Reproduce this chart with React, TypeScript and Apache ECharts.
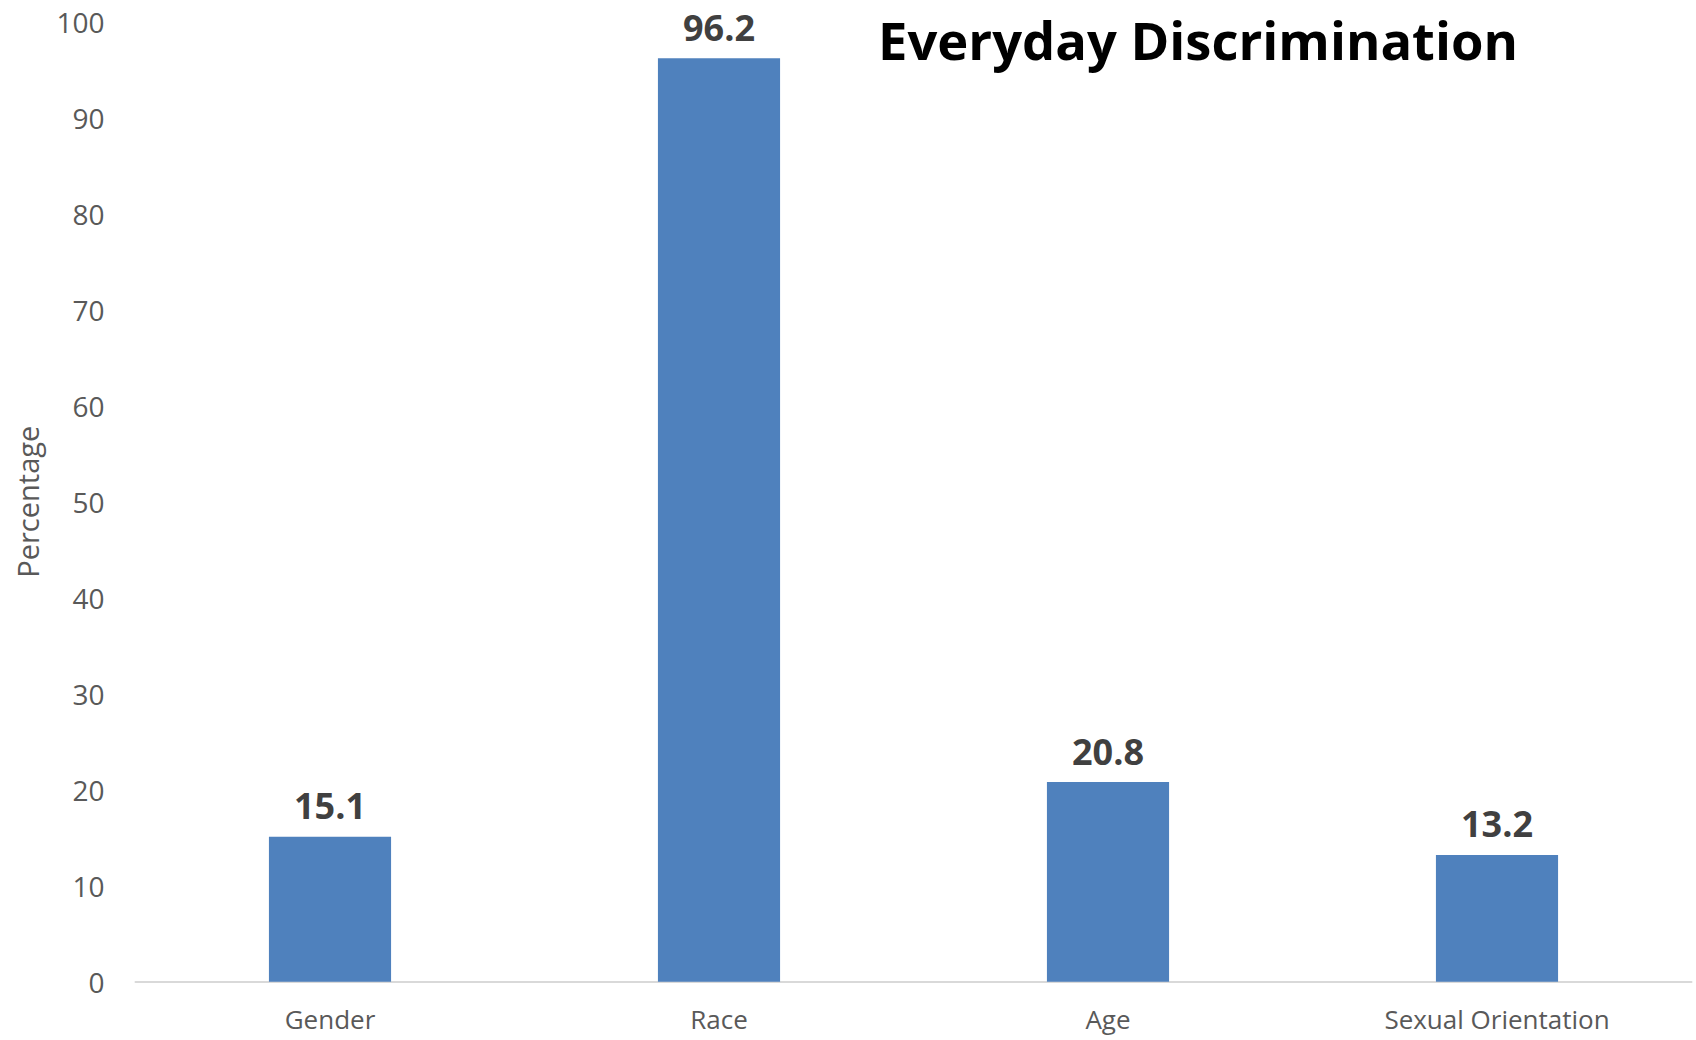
import React, { useEffect, useRef } from "react";
import * as echarts from "echarts";

const categories = ["Gender", "Race", "Age", "Sexual Orientation"];
const values = [15.1, 96.2, 20.8, 13.2];
const titleText = "Everyday Discrimination";
const yAxisName = "Percentage";

const FONT = "'Open Sans', 'Noto Sans', sans-serif";

export default function App() {
  const ref = useRef<HTMLDivElement>(null);

  useEffect(() => {
    if (!ref.current) return;
    const chart = echarts.init(ref.current, undefined, { renderer: "svg" });
    chart.setOption({
      animation: false,
      backgroundColor: "#ffffff",
      title: {
        text: titleText,
        left: 1193,
        top: 8,
        textAlign: "center",
        textStyle: {
          fontFamily: FONT,
          fontWeight: "bold",
          fontSize: 52.5,
          color: "#000000",
        },
      },
      grid: { left: 135.5, right: 4.5, top: 21.7, bottom: 58.3, containLabel: false },
      xAxis: {
        type: "category",
        data: categories,
        axisLine: { show: true, lineStyle: { color: "#D9D9D9", width: 2 } },
        axisTick: { show: false },
        axisLabel: {
          color: "#595959",
          fontFamily: FONT,
          fontSize: 26,
          lineHeight: 26,
          margin: 24,
        },
      },
      yAxis: {
        type: "value",
        min: 0,
        max: 100,
        interval: 10,
        name: yAxisName,
        nameLocation: "middle",
        nameGap: 94,
        nameRotate: 90,
        nameTextStyle: { color: "#595959", fontFamily: FONT, fontSize: 29 },
        axisLine: { show: false },
        axisTick: { show: false },
        splitLine: { show: false },
        axisLabel: {
          color: "#595959",
          fontFamily: FONT,
          fontSize: 28,
          margin: 31,
        },
      },
      series: [
        {
          type: "bar",
          data: values,
          barWidth: "31.4%",
          itemStyle: { color: "#4F81BD" },
          label: {
            show: true,
            position: "top",
            distance: 13,
            color: "#404040",
            fontFamily: FONT,
            fontWeight: "bold",
            fontSize: 36,
            lineHeight: 36,
            formatter: (p: any) => p.value.toFixed(1),
          },
        },
      ],
    });
    return () => chart.dispose();
  }, []);

  return (
    <div
      ref={ref}
      style={{ position: "fixed", left: 0, top: 0, width: 1696, height: 1040 }}
    />
  );
}
